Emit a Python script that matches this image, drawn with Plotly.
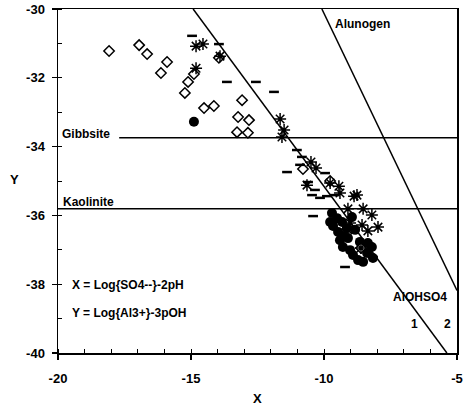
import plotly.graph_objects as go

# ---- data ----
diamond_x = [-18.08, -16.95, -16.65, -15.90, -16.13, -14.89, -15.11, -15.23, -14.51, -14.14,
             -13.08, -13.23, -12.82, -13.27, -12.86, -13.95, -10.79, -9.77, -8.61]
diamond_y = [-31.22, -31.05, -31.31, -31.54, -31.86, -31.89, -32.12, -32.44, -32.88, -32.82,
             -32.65, -33.14, -33.23, -33.58, -33.60, -31.42, -34.65, -35.00, -36.95]

star_x = [-14.55, -14.81, -14.81, -13.91, -11.65, -11.50, -11.58, -10.49, -10.30, -10.64,
          -9.77, -9.44, -9.40, -8.87, -9.10, -8.53, -8.20, -9.02, -8.57, -7.97,
          -8.35, -9.10, -8.61, -8.76]
star_y = [-31.02, -31.08, -31.72, -31.37, -33.20, -33.52, -33.72, -34.45, -34.62, -35.12,
          -35.06, -35.15, -35.35, -35.44, -35.81, -35.81, -35.99, -36.22, -36.28, -36.34,
          -36.45, -36.42, -36.95, -35.41]

dash_x = [-14.96, -13.95, -13.65, -12.56, -11.88, -11.02, -10.83, -10.90, -11.39, -9.96,
          -10.60, -10.34, -10.45, -10.15, -9.89, -9.59, -10.41, -9.21, -8.16]
dash_y = [-30.78, -31.02, -32.12, -32.12, -32.41, -34.10, -34.30, -34.53, -34.74, -34.77,
          -35.03, -35.26, -35.41, -35.49, -35.44, -35.41, -36.02, -37.50, -37.21]

dot_x = [-14.89, -9.70, -9.51, -9.32, -9.66, -9.47, -9.29, -9.40, -9.29, -9.02, -8.91, -8.72,
         -8.53, -8.35, -8.20, -8.38, -8.65, -9.10, -8.16, -8.95, -9.77, -8.83, -9.14]
dot_y = [-33.28, -35.93, -36.08, -36.19, -36.31, -36.48, -36.60, -36.72, -36.92, -37.01, -37.15,
         -37.30, -37.35, -36.80, -36.92, -37.09, -36.77, -36.66, -37.24, -36.05, -36.19, -36.42,
         -36.37]

# equilibrium lines
gibbsite_x = [-17.7, -5]
gibbsite_y = [-33.74, -33.74]
kaolinite_x = [-20, -5]
kaolinite_y = [-35.81, -35.81]
aloh_x = [-14.92, -5.38]
aloh_y = [-30.0, -40.0]
alunogen_x = [-10.08, -5.0]
alunogen_y = [-30.0, -38.18]

x_ticks = [-20, -15, -10, -5]
x_tick_text = ["-20", "-15", "-10", "-5"]
y_ticks = [-30, -32, -34, -36, -38, -40]
y_tick_text = ["-30", "-32", "-34", "-36", "-38", "-40"]

FONT = "Liberation Sans, Arial, sans-serif"

fig = go.Figure()
for lx, ly in [(gibbsite_x, gibbsite_y), (kaolinite_x, kaolinite_y),
               (aloh_x, aloh_y), (alunogen_x, alunogen_y)]:
    fig.add_trace(go.Scatter(x=lx, y=ly, mode="lines",
                             line=dict(color="black", width=1.5), showlegend=False,
                             hoverinfo="skip"))

fig.add_trace(go.Scatter(x=dot_x, y=dot_y, mode="markers", showlegend=False,
                         marker=dict(symbol="circle", size=10, color="black")))
fig.add_trace(go.Scatter(x=diamond_x, y=diamond_y, mode="markers", showlegend=False,
                         marker=dict(symbol="diamond", size=8, color="white",
                                     line=dict(color="black", width=1.5))))
fig.add_trace(go.Scatter(x=dash_x, y=dash_y, mode="markers", showlegend=False,
                         marker=dict(symbol="line-ew-open", size=7, color="black",
                                     line=dict(color="black", width=2.5))))
fig.add_trace(go.Scatter(x=star_x, y=star_y, mode="markers", showlegend=False,
                         marker=dict(symbol="asterisk-open", size=10, color="black",
                                     line=dict(color="black", width=1.5))))

ann_font = dict(family=FONT, size=12, color="black", weight="bold")
annotations = [
    dict(x=-19.87, y=-33.63, text="Gibbsite", xanchor="left", yanchor="middle",
         bgcolor="white", borderpad=0),
    dict(x=-19.89, y=-35.61, text="Kaolinite", xanchor="left", yanchor="middle"),
    dict(x=-8.57, y=-30.44, text="Alunogen", xanchor="center", yanchor="middle"),
    dict(x=-6.39, y=-38.37, text="AlOHSO4", xanchor="center", yanchor="middle"),
    dict(x=-6.58, y=-39.16, text="1", xanchor="center", yanchor="middle"),
    dict(x=-5.34, y=-39.16, text="2", xanchor="center", yanchor="middle"),
    dict(x=-19.55, y=-38.02, text="X = Log{SO4--}-2pH", xanchor="left", yanchor="middle"),
    dict(x=-19.55, y=-38.84, text="Y = Log{Al3+}-3pOH", xanchor="left", yanchor="middle"),
]
for a in annotations:
    a.update(xref="x", yref="y", showarrow=False, font=ann_font)
annotations += [
    dict(xref="paper", yref="paper", x=0.501, y=-0.131, text="X", showarrow=False,
         font=dict(family=FONT, size=13, color="black", weight="bold"),
         xanchor="center", yanchor="middle"),
    dict(xref="paper", yref="paper", x=-0.110, y=0.503, text="Y", showarrow=False,
         font=dict(family=FONT, size=13, color="black", weight="bold"),
         xanchor="center", yanchor="middle"),
]

axis_common = dict(showline=True, linecolor="black", linewidth=1.5, mirror=True,
                   showgrid=False, zeroline=False, automargin=False,
                   ticklabeloverflow="allow",
                   ticks="outside", ticklen=5, tickwidth=1.2, tickcolor="black",
                   tickfont=dict(family=FONT, size=13, color="black", weight="bold"),
                   minor=dict(ticks="inside", ticklen=4, tickwidth=1, tickcolor="black",
                              dtick=1, showgrid=False))

fig.update_xaxes(range=[-20, -5], tickvals=x_ticks, ticktext=x_tick_text,
                 ticklabelstandoff=8, **axis_common)
fig.update_yaxes(range=[-40, -30], tickvals=y_ticks, ticktext=y_tick_text,
                 ticklabelstandoff=4, **axis_common)

fig.update_layout(width=464, height=408, margin=dict(l=58, r=7, t=9, b=55),
                  paper_bgcolor="white", plot_bgcolor="white",
                  font=dict(family=FONT, size=13, color="black"),
                  annotations=annotations, showlegend=False, hovermode=False)

# remove the page's default 8px body margin so the figure sits at the window's corner
fig.write_html("out.html",
               config={"displayModeBar": False, "staticPlot": True},
               post_script="document.body.style.margin='0px';"
                           "document.body.style.overflow='hidden';")
